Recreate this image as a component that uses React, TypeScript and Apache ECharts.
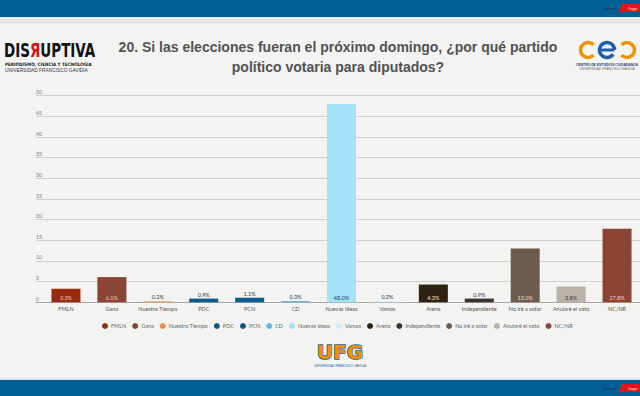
import React, { useEffect, useRef } from "react";
import * as echarts from "echarts";

const categories = [
  "FMLN", "Gana", "Nuestro Tiempo", "PDC", "PCN", "CD", "Nuevas Ideas",
  "Vamos", "Arena", "Independiente", "No iré a votar", "Anularé el voto", "NC/NR",
];
const values = [3.3, 6.1, 0.2, 0.9, 1.1, 0.3, 48.0, 0.2, 4.3, 0.9, 13.0, 3.8, 17.8];
const yTicks = { min: 0, max: 50, interval: 5 };

const barColors = [
  "#9a2a10", "#8a4535", "#f08c3c", "#0a5a8c", "#0b5c8e", "#5ab8e8", "#a4e2fa",
  "#cdeffb", "#2f2212", "#3e3230", "#6f5b4d", "#b9b2a7", "#8d4533",
];
const labelColors = [
  "#f3c6b4", "#f0d2c4", "#333333", "#333333", "#333333", "#333333", "#2a3a4a",
  "#333333", "#eee4d6", "#333333", "#eadbd0", "#3a3a3a", "#f0d6c8",
];

const FONT = "Lato, 'Liberation Sans', sans-serif";

export default function App() {
  const ref = useRef<HTMLDivElement>(null);
  useEffect(() => {
    const chart = echarts.init(ref.current!, null, { renderer: "svg" });
    const series: any[] = categories.map((name, i) => ({
      name,
      type: "bar",
      stack: "all",
      xAxisIndex: 1,
      yAxisIndex: 1,
      barWidth: 29,
      data: categories.map((_, j) => (j === i ? values[i] : "-")),
      itemStyle: { color: barColors[i] },
      label: {
        show: true,
        position: values[i] < 2 ? "top" : "insideBottom",
        distance: 1,
        formatter: (p: any) => Number(p.value).toFixed(1) + "%",
        fontSize: 5.5,
        fontFamily: FONT,
        color: labelColors[i],
      },
    }));

    chart.setOption({
      animation: false,
      backgroundColor: "#f3f3f1",
      grid: [
        { left: 36, right: 0, top: 95.7, bottom: 93.7 },
        { left: 43, width: 602, top: 95.7, bottom: 93.7 },
      ],
      xAxis: [
        {
          type: "value",
          gridIndex: 0,
          min: 0,
          max: 1,
          axisLabel: { show: false },
          axisTick: { show: false },
          splitLine: { show: false },
          axisLine: { show: true, lineStyle: { color: "#a8a8a8", width: 1 } },
        },
        {
          type: "category",
          gridIndex: 1,
          data: categories,
          axisLine: { show: false },
          axisTick: { show: false },
          axisLabel: { fontSize: 5.5, color: "#555", margin: 4, fontFamily: FONT, interval: 0 },
        },
      ],
      yAxis: [
        {
          type: "value",
          gridIndex: 0,
          min: yTicks.min,
          max: yTicks.max,
          interval: yTicks.interval,
          axisLine: { show: false },
          axisTick: { show: false },
          axisLabel: {
            fontSize: 5,
            color: "#777",
            align: "left",
            verticalAlign: "bottom",
            margin: 0,
            padding: [0, 0, 1, 0],
            fontFamily: FONT,
          },
          splitLine: { lineStyle: { color: "#cfcfcf", width: 1 } },
        },
        {
          type: "value",
          gridIndex: 1,
          min: yTicks.min,
          max: yTicks.max,
          interval: yTicks.interval,
          show: false,
          splitLine: { show: false },
        },
      ],
      legend: {
        data: categories,
        icon: "circle",
        left: 102,
        top: 323,
        itemWidth: 6,
        itemHeight: 6,
        itemGap: 6,
        padding: 0,
        textStyle: { fontSize: 5.5, color: "#666", fontFamily: FONT, padding: [0, 0, 0, -2] },
      },
      graphic: [
        { type: "rect", shape: { x: 0, y: 0, width: 640, height: 17 }, style: { fill: "#005f94" } },
        { type: "rect", shape: { x: 0, y: 17, width: 640, height: 2 }, style: { fill: "#e9eef1" } },
        { type: "rect", shape: { x: 0, y: 19, width: 640, height: 5 }, style: { fill: "#e6e6e4" } },
        { type: "rect", shape: { x: 0, y: 378, width: 640, height: 2 }, style: { fill: "#dde6ec" } },
        { type: "rect", shape: { x: 0, y: 380, width: 640, height: 16 }, style: { fill: "#005f94" } },
        { type: "polygon", shape: { points: [[622, 4], [640, 4], [640, 12], [621, 12], [618, 14]] }, style: { fill: "#e3141b" } },
        { type: "text", style: { text: "#ugo", x: 628, y: 8, fill: "#fff", font: "4px sans-serif", textVerticalAlign: "middle" } },
        { type: "text", style: { text: "Viernes", x: 603, y: 8, fill: "#1a2e3a", font: "4px sans-serif", textVerticalAlign: "middle" } },
        { type: "polygon", shape: { points: [[622, 384], [640, 384], [640, 392], [621, 392], [618, 394]] }, style: { fill: "#e3141b" } },
        { type: "text", style: { text: "#ugo", x: 628, y: 388, fill: "#fff", font: "4px sans-serif", textVerticalAlign: "middle" } },
        { type: "text", style: { text: "Viernes", x: 603, y: 388, fill: "#1a2e3a", font: "4px sans-serif", textVerticalAlign: "middle" } },
        {
          type: "text",
          style: {
            text: "20. Si las elecciones fueran el próximo domingo, ¿por qué partido",
            x: 338, y: 47, textAlign: "center", textVerticalAlign: "middle",
            fill: "#525252", font: "bold 14px 'Liberation Sans', Arial, sans-serif",
          },
        },
        {
          type: "text",
          style: {
            text: "político votaria para diputados?",
            x: 338, y: 67, textAlign: "center", textVerticalAlign: "middle",
            fill: "#525252", font: "bold 14px 'Liberation Sans', Arial, sans-serif",
          },
        },
        {
          type: "text",
          x: 4, y: 50, scaleY: 1.3,
          style: {
            text: "{a|DIS}{r|Я}{a|UPTIVA}",
            textVerticalAlign: "middle",
            rich: {
              a: { fontSize: 15, fontWeight: "bold", fill: "#111", fontFamily: "'Liberation Sans Narrow', 'DejaVu Sans Condensed', sans-serif" },
              r: { fontSize: 15, fontWeight: "bold", fill: "#d0181e", fontFamily: "'Liberation Sans Narrow', 'DejaVu Sans Condensed', sans-serif" },
            },
          },
        },
        { type: "text", style: { text: "PERIODISMO, CIENCIA Y TECNOLOGÍA", x: 5, y: 64, fill: "#222", font: "bold 4.6px 'Liberation Sans Narrow', 'DejaVu Sans Condensed', sans-serif", textVerticalAlign: "middle" } },
        { type: "text", style: { text: "UNIVERSIDAD FRANCISCO GAVIDIA", x: 5, y: 70, fill: "#2a3550", font: "4.8px 'Liberation Sans', sans-serif", textVerticalAlign: "middle" } },
        { type: "arc", shape: { cx: 588, cy: 50, r: 7.5, startAngle: 0.75, endAngle: Math.PI * 2 - 0.75, clockwise: true }, style: { stroke: "#f39200", lineWidth: 3.5, fill: "none" } },
        { type: "arc", shape: { cx: 607, cy: 50, r: 7.5, startAngle: 0.6, endAngle: Math.PI * 2, clockwise: true }, style: { stroke: "#1f5fa8", lineWidth: 3.5, fill: "none" } },
        { type: "line", shape: { x1: 600, y1: 50, x2: 614, y2: 50 }, style: { stroke: "#1f5fa8", lineWidth: 3 } },
        { type: "arc", shape: { cx: 627, cy: 50, r: 7.5, startAngle: Math.PI + 0.75, endAngle: Math.PI - 0.75 + Math.PI * 2, clockwise: true }, style: { stroke: "#f39200", lineWidth: 3.5, fill: "none" } },
        { type: "text", style: { text: "CENTRO DE ESTUDIOS CIUDADANOS", x: 607, y: 65, textAlign: "center", fill: "#1f3a70", font: "bold 3.4px 'Liberation Sans', sans-serif", textVerticalAlign: "middle" } },
        { type: "text", style: { text: "UNIVERSIDAD FRANCISCO GAVIDIA", x: 607, y: 69, textAlign: "center", fill: "#666", font: "3.2px 'Liberation Sans', sans-serif", textVerticalAlign: "middle" } },
        {
          type: "text",
          style: {
            text: "UFG", x: 340, y: 352, textAlign: "center", textVerticalAlign: "middle",
            fill: "#f39200", stroke: "#1f5fa8", lineWidth: 1.5,
            font: "bold 20px 'DejaVu Sans', sans-serif",
          },
        },
        { type: "text", style: { text: "UNIVERSIDAD FRANCISCO GAVIDIA", x: 340, y: 366, textAlign: "center", fill: "#1f5fa8", font: "3px 'Liberation Sans', sans-serif", textVerticalAlign: "middle" } },
      ],
      series,
    });
    return () => chart.dispose();
  }, []);
  return (
    <div
      ref={ref}
      style={{ position: "fixed", left: 0, top: 0, width: 640, height: 396 }}
    />
  );
}
